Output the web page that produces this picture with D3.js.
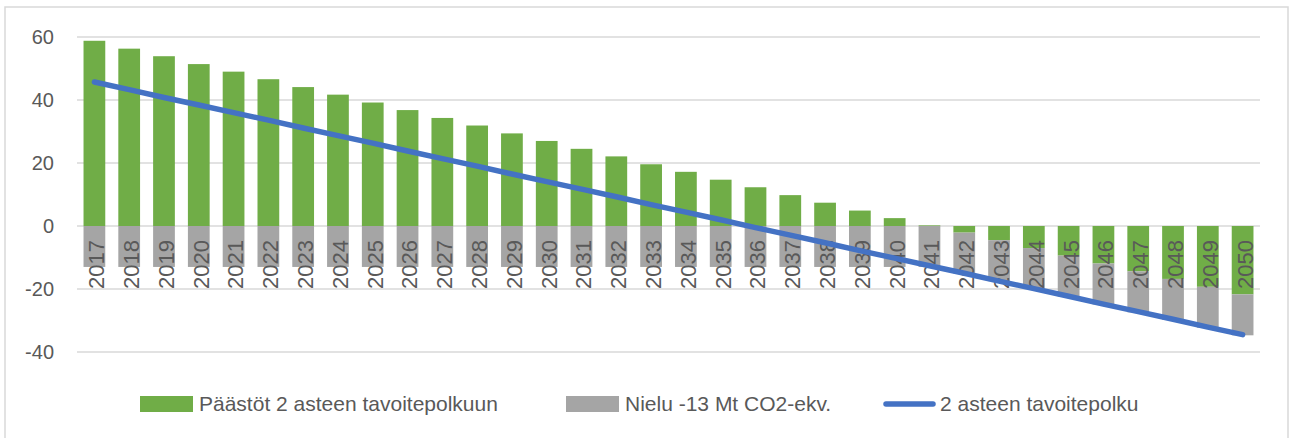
<!DOCTYPE html>
<html>
<head>
<meta charset="utf-8">
<script src="https://cdn.jsdelivr.net/npm/d3@7"></script>
<style>
  body { margin: 0; background: #fff; }
  text { font-family: "Liberation Sans", Arial, sans-serif; fill: #595959; }
</style>
</head>
<body>
<div id="chart"></div>
<script>
const years = [2017, 2018, 2019, 2020, 2021, 2022, 2023, 2024, 2025, 2026, 2027, 2028,
  2029, 2030, 2031, 2032, 2033, 2034, 2035, 2036, 2037, 2038, 2039, 2040, 2041, 2042,
  2043, 2044, 2045, 2046, 2047, 2048, 2049, 2050];

// Päästöt 2 asteen tavoitepolkuun
const emissions = [58.8, 56.3, 53.9, 51.4, 49.0, 46.6, 44.1, 41.7, 39.2, 36.8, 34.3, 31.9,
  29.4, 27.0, 24.5, 22.1, 19.6, 17.2, 14.7, 12.3, 9.8, 7.4, 4.9, 2.5, 0.2, -2.1,
  -4.5, -7.0, -9.4, -11.9, -14.4, -16.8, -19.3, -21.7];

// Nielu -13 Mt CO2-ekv.
const sink = [-13, -13, -13, -13, -13, -13, -13, -13, -13, -13, -13, -13,
  -13, -13, -13, -13, -13, -13, -13, -13, -13, -13, -13, -13, -13, -13,
  -13, -13, -13, -13, -13, -13, -13, -13];

// 2 asteen tavoitepolku
const target = [45.7, 43.3, 40.8, 38.4, 36.0, 33.6, 31.1, 28.7, 26.3, 23.8, 21.4, 19.0,
  16.5, 14.1, 11.7, 9.3, 6.8, 4.4, 2.0, -0.5, -2.9, -5.3, -7.8, -10.2, -12.6, -15.0,
  -17.5, -19.9, -22.3, -24.8, -27.2, -29.6, -32.1, -34.5];

const yTicks = [-40, -20, 0, 20, 40, 60];
const seriesNames = ["Päästöt 2 asteen tavoitepolkuun", "Nielu -13 Mt CO2-ekv.", "2 asteen tavoitepolku"];
const colors = { emissions: "#70AD47", sink: "#A5A5A5", target: "#4472C4" };

const W = 1290, H = 438;
const svg = d3.select("#chart").append("svg")
    .attr("width", W)
    .attr("height", H);

// chart border
svg.append("rect")
    .attr("x", 5).attr("y", 7)
    .attr("width", 1283).attr("height", 440)
    .attr("fill", "none")
    .attr("stroke", "#d9d9d9")
    .attr("stroke-width", 1.5);

const x = d3.scaleBand()
    .domain(years)
    .range([77, 1260])
    .paddingInner(0.375)
    .paddingOuter(0.1875);

const y = d3.scaleLinear()
    .domain([-40, 60])
    .range([352, 37]);

// gridlines
svg.append("g")
    .selectAll("line")
    .data(yTicks)
    .join("line")
    .attr("x1", 77).attr("x2", 1260)
    .attr("y1", d => y(d)).attr("y2", d => y(d))
    .attr("stroke", "#d9d9d9")
    .attr("stroke-width", 1.5);

// y axis labels
const yAxis = d3.axisLeft(y).tickValues(yTicks).tickFormat(d => String(d)).tickSize(0).tickPadding(0);
svg.append("g")
    .attr("transform", "translate(54,0)")
    .call(yAxis)
    .call(g => g.select(".domain").remove())
    .selectAll("text")
    .attr("font-size", 20)
    .attr("font-family", "Liberation Sans, Arial, sans-serif")
    .attr("fill", "#595959");

// stacked bars
const rows = years.map((yr, i) => ({ year: yr, emissions: emissions[i], sink: sink[i] }));
const stack = d3.stack()
    .keys(["emissions", "sink"])
    .offset(d3.stackOffsetDiverging);
const series = stack(rows);

svg.append("g")
    .selectAll("g")
    .data(series)
    .join("g")
    .attr("fill", d => colors[d.key])
    .selectAll("rect")
    .data(d => d)
    .join("rect")
    .attr("x", d => x(d.data.year))
    .attr("y", d => y(Math.max(d[0], d[1])))
    .attr("height", d => Math.abs(y(d[0]) - y(d[1])))
    .attr("width", x.bandwidth());

// x labels (rotated, at the zero line)
svg.append("g")
    .selectAll("text")
    .data(years)
    .join("text")
    .attr("transform", d => `translate(${x(d) + x.bandwidth() / 2 + 2},${y(0) + 14}) rotate(-90)`)
    .attr("text-anchor", "end")
    .attr("dy", "0.36em")
    .attr("font-size", 22)
    .text(d => d);

// target line
const line = d3.line()
    .x((d, i) => x(years[i]) + x.bandwidth() / 2)
    .y(d => y(d));

svg.append("path")
    .datum(target)
    .attr("d", line)
    .attr("fill", "none")
    .attr("stroke", colors.target)
    .attr("stroke-width", 5.5)
    .attr("stroke-linecap", "round");

// legend
const legend = svg.append("g").attr("font-size", 21);
const ly = 404;

legend.append("rect")
    .attr("x", 140).attr("y", ly - 8)
    .attr("width", 53).attr("height", 16)
    .attr("fill", colors.emissions);
legend.append("text")
    .attr("x", 199).attr("y", ly).attr("dy", "0.35em")
    .text(seriesNames[0]);

legend.append("rect")
    .attr("x", 566).attr("y", ly - 8)
    .attr("width", 53).attr("height", 16)
    .attr("fill", colors.sink);
legend.append("text")
    .attr("x", 625).attr("y", ly).attr("dy", "0.35em")
    .text(seriesNames[1]);

legend.append("line")
    .attr("x1", 886).attr("x2", 933)
    .attr("y1", ly).attr("y2", ly)
    .attr("stroke", colors.target)
    .attr("stroke-width", 5.5)
    .attr("stroke-linecap", "round");
legend.append("text")
    .attr("x", 940).attr("y", ly).attr("dy", "0.35em")
    .text(seriesNames[2]);
</script>
</body>
</html>
